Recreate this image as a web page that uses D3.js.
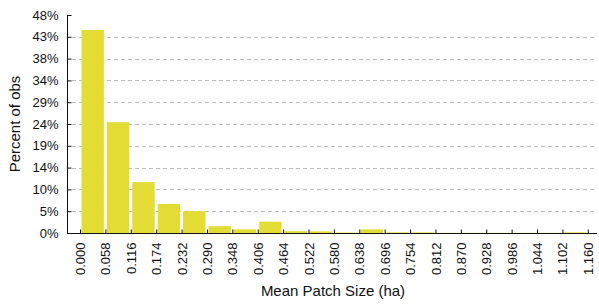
<!DOCTYPE html>
<html>
<head>
<meta charset="utf-8">
<script src="https://cdn.jsdelivr.net/npm/d3@7"></script>
<style>
  body { margin: 0; background: #fff; }
  text { font-family: "Liberation Sans", Arial, sans-serif; fill: #111; }
</style>
</head>
<body>
<script>
var width = 599, height = 304;

// bin edges (ha) and share of observations per bin (%)
var binEdges = [0.000, 0.058, 0.116, 0.174, 0.232, 0.290, 0.348, 0.406, 0.464, 0.522,
                0.580, 0.638, 0.696, 0.754, 0.812, 0.870, 0.928, 0.986, 1.044, 1.102, 1.160];
var percents = [44.7, 24.4, 11.2, 6.4, 4.8, 1.5, 0.8, 2.5, 0.4, 0.35,
                0.1, 0.8, 0.15, 0.15, 0.03, 0.03, 0.03, 0.03, 0.03, 0.15];
var yTicks = [0, 4.8, 9.6, 14.4, 19.2, 24, 28.8, 33.6, 38.4, 43.2, 48];

var svg = d3.select('body').append('svg')
	.attr('width', width)
	.attr('height', height);

var x = d3.scaleLinear().domain([-0.0297, 1.181]).range([67, 597]);
var y = d3.scaleLinear().domain([0, 48]).range([233, 15]);

// dashed grid
svg.append('g')
	.selectAll('line')
	.data(yTicks.slice(1, -1))
	.enter()
	.append('line')
	.attr('x1', 72)
	.attr('x2', 597)
	.attr('y1', function(d) { return Math.round(y(d)) + 0.5; })
	.attr('y2', function(d) { return Math.round(y(d)) + 0.5; })
	.attr('stroke', '#bdbdbd')
	.attr('stroke-dasharray', '4,3');

// bars
var bins = percents.map(function(p, i) {
	return { x0: binEdges[i], x1: binEdges[i] + 0.058, p: p };
});
svg.append('g')
	.selectAll('rect')
	.data(bins)
	.enter()
	.append('rect')
	.attr('x', function(d) { return x(d.x0) + 1.5; })
	.attr('width', function(d) { return x(d.x1) - x(d.x0) - 3; })
	.attr('y', function(d) { return y(d.p); })
	.attr('height', function(d) { return y(0) - y(d.p); })
	.attr('fill', '#e2dc34');

// y axis
var yAxis = d3.axisLeft(y)
	.tickValues(yTicks)
	.tickSize(-4)
	.tickPadding(9)
	.tickFormat(function(d) { return Math.round(d) + '%'; });
var gy = svg.append('g').attr('transform', 'translate(67.5,0)').call(yAxis);
gy.select('.domain').attr('d', 'M0,' + y(48) + 'V' + y(0));
gy.selectAll('text').attr('font-size', '13px').attr('font-family', null);
gy.selectAll('line, path').attr('stroke', '#111');

// x axis
var xAxis = d3.axisBottom(x)
	.tickValues(binEdges)
	.tickSize(-4)
	.tickPadding(0)
	.tickFormat(d3.format('.3f'));
var gx = svg.append('g').attr('transform', 'translate(0,233.5)').call(xAxis);
gx.select('.domain').attr('d', 'M67,0H597');
gx.selectAll('line, path').attr('stroke', '#111');
gx.selectAll('text')
	.attr('font-size', '13px')
	.attr('font-family', null)
	.attr('text-anchor', 'end')
	.attr('transform', 'rotate(-90)')
	.attr('x', -9)
	.attr('y', 0)
	.attr('dy', '0.35em');

// axis titles
svg.append('text')
	.attr('x', 333)
	.attr('y', 296)
	.attr('text-anchor', 'middle')
	.attr('font-size', '15px')
	.text('Mean Patch Size (ha)');

svg.append('text')
	.attr('transform', 'translate(20,124) rotate(-90)')
	.attr('text-anchor', 'middle')
	.attr('font-size', '15px')
	.text('Percent of obs');
</script>
</body>
</html>
